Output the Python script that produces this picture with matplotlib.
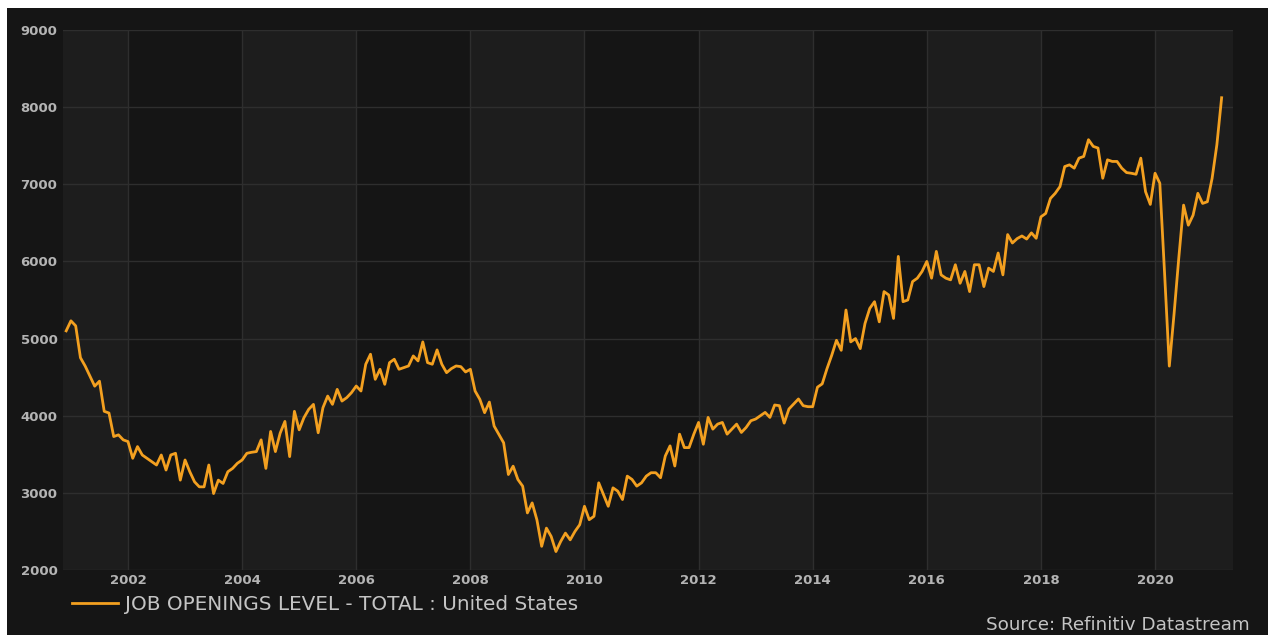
import matplotlib
matplotlib.use("Agg")
import matplotlib.pyplot as plt
from matplotlib.patches import Rectangle
import numpy as np

# ---- data: JOLTS job openings level (thousands), monthly, Dec 2000 - Mar 2021 ----
start_year = 2000
start_month = 12
v2000 = [5100]
v2001 = [5230, 5165, 4752, 4643, 4513, 4383, 4448, 4057, 4035, 3730, 3752, 3687]
v2002 = [3665, 3448, 3600, 3491, 3448, 3404, 3361, 3491, 3296, 3491, 3513, 3165]
v2003 = [3426, 3274, 3143, 3078, 3078, 3361, 2991, 3165, 3122, 3274, 3317, 3383]
v2004 = [3426, 3513, 3526, 3535, 3687, 3317, 3796, 3535, 3774, 3926, 3470, 4057]
v2005 = [3817, 3974, 4082, 4147, 3779, 4104, 4255, 4147, 4342, 4190, 4234, 4299]
v2006 = [4385, 4320, 4667, 4797, 4472, 4602, 4407, 4688, 4732, 4602, 4623, 4645]
v2007 = [4775, 4710, 4957, 4688, 4667, 4853, 4667, 4558, 4610, 4645, 4636, 4567]
v2008 = [4602, 4320, 4212, 4039, 4177, 3866, 3758, 3649, 3238, 3346, 3173, 3087]
v2009 = [2740, 2870, 2650, 2307, 2543, 2435, 2239, 2370, 2478, 2391, 2500, 2587]
v2010 = [2826, 2652, 2696, 3130, 2978, 2826, 3065, 3022, 2913, 3217, 3174, 3087]
v2011 = [3130, 3217, 3261, 3261, 3196, 3478, 3609, 3348, 3761, 3587, 3587, 3761]
v2012 = [3913, 3630, 3978, 3826, 3891, 3913, 3761, 3826, 3891, 3783, 3848, 3935]
v2013 = [3957, 4000, 4043, 3978, 4139, 4130, 3904, 4087, 4152, 4217, 4130, 4117]
v2014 = [4117, 4370, 4413, 4609, 4783, 4978, 4848, 5370, 4957, 5000, 4870, 5196]
v2015 = [5391, 5478, 5217, 5609, 5565, 5261, 6065, 5478, 5500, 5739, 5783, 5870]
v2016 = [6000, 5783, 6130, 5826, 5783, 5761, 5957, 5717, 5870, 5609, 5957, 5957]
v2017 = [5674, 5913, 5870, 6109, 5826, 6348, 6239, 6296, 6330, 6290, 6370, 6300]
v2018 = [6578, 6622, 6817, 6883, 6970, 7230, 7252, 7209, 7339, 7361, 7578, 7491]
v2019 = [7470, 7078, 7317, 7296, 7296, 7209, 7152, 7143, 7130, 7339, 6904, 6739]
v2020 = [7143, 7013, 5850, 4643, 5322, 6052, 6730, 6470, 6600, 6883, 6752, 6774]
v2021 = [7078, 7513, 8122]

series_label = "JOB OPENINGS LEVEL - TOTAL : United States"
source_text = "Source: Refinitiv Datastream"
y_ticks = [2000, 3000, 4000, 5000, 6000, 7000, 8000, 9000]
x_ticks = [2002, 2004, 2006, 2008, 2010, 2012, 2014, 2016, 2018, 2020]

values = (v2000 + v2001 + v2002 + v2003 + v2004 + v2005 + v2006 + v2007 + v2008
          + v2009 + v2010 + v2011 + v2012 + v2013 + v2014 + v2015 + v2016
          + v2017 + v2018 + v2019 + v2020 + v2021)
t = start_year + (start_month - 1) / 12.0 + np.arange(len(values)) / 12.0

W, H = 1277, 635
fig = plt.figure(figsize=(W / 100, H / 100), dpi=100, facecolor="white")

# dark panel (the screenshot has a thin white border on top/left/right)
fig.patches.append(Rectangle((7 / W, 0), (1268 - 7) / W, (H - 8) / H,
                             transform=fig.transFigure, facecolor="#151515",
                             edgecolor="none", zorder=-5))

L, R, T, B = 63, 1233, 30, 570
ax = fig.add_axes([L / W, 1 - B / H, (R - L) / W, (B - T) / H])
ax.set_zorder(2)
ax.set_facecolor("#1d1d1d")

x0, x1 = 2000.861, 2021.366
ax.set_xlim(x0, x1)
ax.set_ylim(2000, 9000)

# alternating darker bands
for yr in [2002, 2006, 2010, 2014, 2018]:
    ax.axvspan(yr, yr + 2, color="#151515", zorder=0, lw=0)

for y in y_ticks:
    ax.axhline(y, color="#2e2e2e", lw=1.0, zorder=1)
for x in x_ticks:
    ax.axvline(x, color="#2e2e2e", lw=1.0, zorder=1)

ax.plot(t, values, color="#f3a020", lw=2.0, zorder=3, label=series_label,
        solid_joinstyle="round")

for s in ax.spines.values():
    s.set_visible(False)
ax.set_yticks(y_ticks)
ax.set_yticklabels([str(v) for v in y_ticks])
ax.set_xticks(x_ticks)
ax.set_xticklabels([str(v) for v in x_ticks])
ax.tick_params(axis="both", length=0, colors="#b4b4b4", labelsize=9.5)
ax.tick_params(axis="y", pad=4)
ax.tick_params(axis="x", pad=3)
for lab in ax.get_xticklabels() + ax.get_yticklabels():
    lab.set_fontweight("bold")
    lab.set_fontfamily("DejaVu Sans")

leg = ax.legend(loc="center left", bbox_to_anchor=(72 / W, 1 - 604 / H),
                bbox_transform=fig.transFigure, frameon=False,
                handlelength=2.3, handletextpad=0.34, borderpad=0,
                borderaxespad=0, prop={"family": "DejaVu Sans", "size": 14.4})
for txt in leg.get_texts():
    txt.set_color("#c4c4c4")

fig.text(1250 / W, 1 - 625 / H, source_text, ha="right", va="center",
         color="#c4c4c4", fontsize=13.2, family="DejaVu Sans")

fig.savefig("out.png", dpi=100, facecolor=fig.get_facecolor())
